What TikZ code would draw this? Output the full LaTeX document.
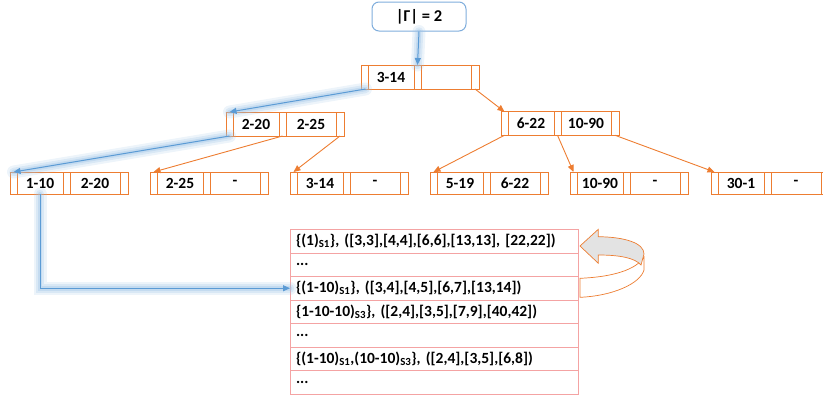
\documentclass[tikz,border=0pt]{standalone}
\usepackage{fontspec}
\setmainfont{Carlito}
\usetikzlibrary{calc,arrows.meta}

\definecolor{treeorange}{HTML}{ED7D31}
\definecolor{pathblue}{HTML}{5B9BD5}
\definecolor{glowblue}{HTML}{9DC3E6}
\definecolor{boxblue}{HTML}{7FADDC}
\definecolor{rowpink}{HTML}{F4A3A3}
\definecolor{turngray}{HTML}{E3E3E3}

\tikzset{
  cell/.style={draw=treeorange, line width=0.9pt, inner sep=0pt, outer sep=0pt,
    font=\bfseries\fontsize{15.5}{18}\selectfont},
  keylink/.style={draw=treeorange, line width=0.9pt,
    -{Triangle[length=7pt,width=6pt]}},
  searchlink/.style={draw=pathblue, line width=1pt,
    -{Triangle[length=7pt,width=6pt]},
    preaction={draw=glowblue, line width=13pt, opacity=0.18, line cap=round, -},
    preaction={draw=glowblue, line width=8.5pt, opacity=0.25, line cap=round, -},
    preaction={draw=glowblue, line width=4.5pt, opacity=0.35, line cap=round, -}},
  topbox/.style={draw=boxblue, line width=1pt, rounded corners=7pt,
    minimum width=94pt, minimum height=29pt, inner sep=0pt,
    font=\bfseries\fontsize{16.5}{19}\selectfont},
  rowbox/.style={draw=rowpink, line width=0.8pt, inner xsep=6pt, inner ysep=0pt,
    outer sep=0pt, text width=276pt, align=left, minimum height=23.5pt,
    anchor=north west, font=\bfseries\fontsize{15.5}{18}\selectfont},
  turnside/.style={draw=treeorange, line width=0.7pt, fill=white},
  turntop/.style={draw=treeorange, line width=0.7pt, fill=turngray},
}

% One B-tree node: name, west point, height, first key, second key
\newcommand\bnode[5]{%
  \node[cell, minimum width=7pt, minimum height=#3, anchor=west] (#1-s0) at (#2) {};
  \node[cell, minimum width=46pt, minimum height=#3, anchor=west] (#1-k1) at (#1-s0.east) {#4};
  \node[cell, minimum width=7pt, minimum height=#3, anchor=west] (#1-s1) at (#1-k1.east) {};
  \node[cell, minimum width=50pt, minimum height=#3, anchor=west] (#1-k2) at (#1-s1.east) {#5};
  \node[cell, minimum width=8pt, minimum height=#3, anchor=west] (#1-s2) at (#1-k2.east) {};
}

\begin{document}
\begin{tikzpicture}[x=1pt,y=-1pt]
\useasboundingbox (0,0) rectangle (823,397);
\clip (0,0) rectangle (823,397);

% tree
\node[topbox] (gamma) at (419,16.5) {|Γ| = 2};
\bnode{root}{361,77}{24pt}{3-14}{}
\bnode{la}{226,124}{24pt}{2-20}{2-25}
\bnode{lb}{501,123.5}{23.5pt}{6-22}{10-90}
\bnode{fa}{10,183}{22pt}{1-10}{2-20}
\bnode{fb}{150,183}{22pt}{2-25}{-}
\bnode{fc}{290,183}{22pt}{3-14}{-}
\bnode{fd}{430,183}{22pt}{5-19}{6-22}
\bnode{fe}{570,183}{22pt}{10-90}{-}
\bnode{ff}{711,183}{22pt}{30-1}{-}

% list of entries
\node[rowbox] (r1) at (290,229.5) {\{(1)\textsubscript{S1}\}, ([3,3],[4,4],[6,6],[13,13], [22,22])};
\node[rowbox] (r2) at (r1.south west) {...};
\node[rowbox] (r3) at (r2.south west) {\{(1-10)\textsubscript{S1}\}, ([3,4],[4,5],[6,7],[13,14])};
\node[rowbox] (r4) at (r3.south west) {\{1-10-10)\textsubscript{S3}\}, ([2,4],[3,5],[7,9],[40,42])};
\node[rowbox] (r5) at (r4.south west) {...};
\node[rowbox] (r6) at (r5.south west) {\{(1-10)\textsubscript{S1},(10-10)\textsubscript{S3}\}, ([2,4],[3,5],[6,8])};
\node[rowbox] (r7) at (r6.south west) {...};

% orange child links
\draw[keylink] (root-s2.south) -- (lb-s0.north);
\draw[keylink] (la-s1.south) -- (fb-s0.north);
\draw[keylink] (la-s2.south) -- (fc-s0.north);
\draw[keylink] (lb-s0.south) -- (fd-s0.north);
\draw[keylink] (lb-s1.south) -- (fe-s0.north);
\draw[keylink] (lb-s2.south) -- (ff-s0.north);

% highlighted search path
\draw[searchlink] (gamma.south) -- (root-s1.north);
\draw[searchlink] ([xshift=1pt]root-s0.south) -- (la-s0.north);
\draw[searchlink] (la-s0.south) -- (fa-s0.north);
\draw[searchlink] (fa-k1.south) |- (r3.west);

% U-turn arrow back to the first entry
\draw[turnside] (580,278.3) .. controls (612,277) and (636,270) .. (644,257)
  -- (644,270) .. controls (640,284) and (612,296) .. (580,297.3) -- cycle;
\draw[turntop] (580,246) -- (598.3,229.3) -- (598.3,236.7)
  .. controls (625,237) and (644,243) .. (644,254)
  -- (641,265) .. controls (635,258) and (620,255) .. (598.3,255)
  -- (598.3,263.3) -- cycle;
\end{tikzpicture}
\end{document}
